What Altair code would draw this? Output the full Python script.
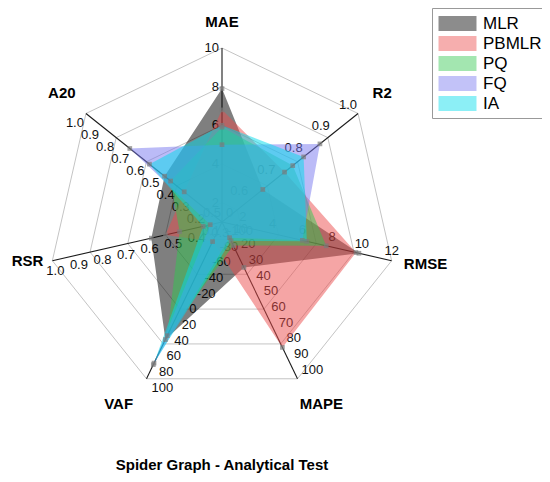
import altair as alt
import pandas as pd

# ---------------- data ----------------
axes = ["MAE", "R2", "RMSE", "MAPE", "VAF", "RSR", "A20"]
axis_lo = [1.0, 0.5, 0.6, 0.0, -100.0, 0.28, 0.1]
axis_hi = [10.0, 1.0, 12.0, 100.0, 100.0, 1.0, 1.0]

series_names = ["MLR", "PBMLR", "PQ", "FQ", "IA"]
mlr = [7.9, 0.65, 9.8, 29, 50, 0.58, 0.48]
pbmlr = [6.8, 0.73, 9.6, 80, -75, 0.52, 0.35]
pq = [5.9, 0.76, 7.6, 15, 45, 0.46, 0.44]
fq = [5.0, 0.86, 6.0, 10, 82, 0.33, 0.71]
ia = [6.0, 0.80, 6.3, 12, 80, 0.36, 0.58]
series_values = [mlr, pbmlr, pq, fq, ia]

ticks_mae = [2, 4, 6, 8, 10]
ticks_r2 = [0.5, 0.6, 0.7, 0.8, 0.9, 1.0]
ticks_rmse = [2, 4, 6, 8, 10, 12]
ticks_mape = [0, 10, 20, 30, 40, 50, 60, 70, 80, 90, 100]
ticks_vaf = [-100, -80, -60, -40, -20, 0, 20, 40, 60, 80, 100]
ticks_rsr = [0.3, 0.4, 0.5, 0.6, 0.7, 0.8, 0.9, 1.0]
ticks_a20 = [0.1, 0.2, 0.3, 0.4, 0.5, 0.6, 0.7, 0.8, 0.9, 1.0]
tick_lists = [ticks_mae, ticks_r2, ticks_rmse, ticks_mape, ticks_vaf, ticks_rsr, ticks_a20]
tick_formats = ["{:d}", "{:.1f}", "{:d}", "{:d}", "{:d}", "{:.1f}", "{:.1f}"]

title_text = "Spider Graph - Analytical Test"

# ---------------- style ----------------
series_colors = ["#000000", "#eb4b4b", "#32c850", "#7878f0", "#00dceb"]
draw_order = ["MLR", "PBMLR", "PQ", "FQ", "IA"]
FILL_OP = 0.5
FONT = "Liberation Sans"
# tick label placement per axis: (dx, dy, align)
label_style = {
    "MAE": (-3, 0, "right"),
    "R2": (-1, -9, "right"),
    "RMSE": (0, -10, "center"),
    "MAPE": (4, -9, "left"),
    "VAF": (5, 9, "left"),
    "RSR": (3, 10, "center"),
    "A20": (-2, 9, "right"),
}
# axis title nudges: (dx, dy)
title_style = {
    "MAE": (0, 4), "R2": (1, -2), "RMSE": (5, -3), "MAPE": (11, -1),
    "VAF": (-15, -1), "RSR": (4, -6), "A20": (-1, -2),
}

W, H = 534, 440
CX, CY, R = 214, 214, 174
xdom = [-CX / R, (W - CX) / R]
ydom = [(CY - H) / R, CY / R]

# ---------------- tables ----------------
axis_df = pd.DataFrame({"axis": axes, "idx": list(range(len(axes))),
                        "lo": axis_lo, "hi": axis_hi})

rows = []
for s, vals in zip(series_names, series_values):
    for i, (a, v) in enumerate(zip(axes, vals)):
        rows.append({"series": s, "axis": a, "idx": i, "value": v,
                     "lo": axis_lo[i], "hi": axis_hi[i]})
series_df = pd.DataFrame(rows)

trows = []
for i, (a, tl, fmt) in enumerate(zip(axes, tick_lists, tick_formats)):
    for t in tl:
        lab = fmt.format(int(round(t))) if fmt == "{:d}" else fmt.format(t)
        trows.append({"axis": a, "idx": i, "value": t, "lo": axis_lo[i],
                      "hi": axis_hi[i], "label": lab})
tick_df = pd.DataFrame(trows)

# grid rings follow the first axis (MAE) tick positions
rrows = []
for t in ticks_mae:
    for i, a in enumerate(axes):
        rrows.append({"ring": t, "idx": i, "value": t,
                      "lo": axis_lo[0], "hi": axis_hi[0]})
ring_df = pd.DataFrame(rrows)

xs = alt.Scale(domain=xdom, nice=False, zero=False)
ys = alt.Scale(domain=ydom, nice=False, zero=False)


def polar(ch):
    return ch.transform_calculate(
        theta="datum.idx * 2 * PI / 7",
        r="(datum.value - datum.lo) / (datum.hi - datum.lo)",
    ).transform_calculate(
        px="datum.r * sin(datum.theta)",
        py="datum.r * cos(datum.theta)",
    )


X = alt.X("px:Q", scale=xs, axis=None)
Y = alt.Y("py:Q", scale=ys, axis=None)

rings = polar(alt.Chart(ring_df)).mark_line(
    interpolate="linear-closed", stroke="#c4c4c4", strokeWidth=1
).encode(x=X, y=Y, detail="ring:N", order=alt.Order("idx:Q"))

axis_lines = alt.Chart(axis_df).transform_calculate(
    theta="datum.idx * 2 * PI / 7",
).transform_calculate(
    px="sin(datum.theta)", py="cos(datum.theta)", zx="0", zy="0"
).mark_rule(color="#1a1a1a", strokeWidth=1.1).encode(
    x=alt.X("zx:Q", scale=xs, axis=None), y=alt.Y("zy:Q", scale=ys, axis=None),
    x2="px:Q", y2="py:Q")

label_layers = []
for a in axes:
    dx, dy, al = label_style[a]
    label_layers.append(
        polar(alt.Chart(tick_df).transform_filter(alt.datum.axis == a)).mark_text(
            dx=dx, dy=dy, align=al, baseline="middle", font=FONT, fontSize=13,
            color="#111111"
        ).encode(x=X, y=Y, text="label:N")
    )

title_layers = []
for a in axes:
    dx, dy = title_style[a]
    title_layers.append(
        alt.Chart(axis_df).transform_filter(alt.datum.axis == a).transform_calculate(
            theta="datum.idx * 2 * PI / 7",
        ).transform_calculate(
            px="1.17 * sin(datum.theta)", py="1.17 * cos(datum.theta)"
        ).mark_text(font=FONT, fontSize=15, fontWeight="bold", align="center",
                    baseline="middle", color="#000000", dx=dx, dy=dy
                    ).encode(x=X, y=Y, text="axis:N")
    )

legend_path = "M-2,-0.8H2V0.8H-2Z"
legend = alt.Legend(
    title=None, orient="none", legendX=424, legendY=0,
    symbolType=legend_path, symbolSize=361, symbolOffset=10,
    symbolStrokeWidth=0, symbolOpacity=0.45,
    labelFont=FONT, labelFontSize=17, labelColor="#000",
    labelOffset=16, rowPadding=2, padding=6,
    strokeColor="#999999", fillColor="#ffffff")
fill_enc = alt.Fill("series:N",
                    scale=alt.Scale(domain=series_names, range=series_colors),
                    legend=legend)

poly_layers = []
for s in draw_order:
    poly_layers.append(
        polar(alt.Chart(series_df).transform_filter(alt.datum.series == s)).mark_line(
            interpolate="linear-closed", fillOpacity=FILL_OP, strokeOpacity=0
        ).encode(x=X, y=Y, fill=fill_enc, order=alt.Order("idx:Q"))
    )

markers = polar(alt.Chart(series_df)).mark_square(
    size=22, color="#7a7a7a", opacity=0.7
).encode(x=X, y=Y)

chart = alt.layer(
    rings, axis_lines, *label_layers, *title_layers, *poly_layers, markers
).properties(
    width=W, height=H,
    autosize=alt.AutoSizeParams(type="none"),
    padding={"left": 0, "top": 0, "right": 0, "bottom": 26},
    title=alt.TitleParams(title_text, orient="bottom", anchor="middle",
                          dx=-53, offset=10, font=FONT, fontSize=15,
                          fontWeight="bold", color="#000"),
).configure_view(stroke=None)

chart.save("out.html", embed_options={"renderer": "svg", "actions": False})
